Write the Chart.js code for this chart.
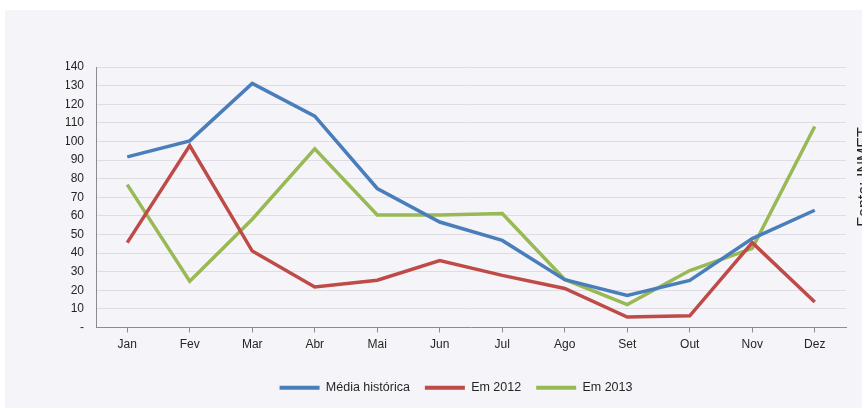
<!DOCTYPE html>
<html>
<head>
<meta charset="utf-8">
<script src="https://cdn.jsdelivr.net/npm/chart.js@4/dist/chart.umd.min.js"></script>
<style>
  html, body { margin: 0; padding: 0; background: #ffffff; }
  #wrap { width: 862px; height: 410px; position: relative; }
  canvas { display: block; }
</style>
</head>
<body>
<div id="wrap"><canvas id="c" width="862" height="410"></canvas></div>
<script>
// Monthly rainfall (mm): historical average vs. 2012 and 2013
const months = ['Jan', 'Fev', 'Mar', 'Abr', 'Mai', 'Jun', 'Jul', 'Ago', 'Set', 'Out', 'Nov', 'Dez'];
const mediaHistorica = [91.7, 100.3, 131.2, 113.6, 74.7, 56.7, 46.8, 25.7, 17.2, 25.3, 47.8, 63.0];
const em2012 = [45.6, 97.8, 41.1, 21.8, 25.4, 36.0, 28.0, 21.0, 5.6, 6.3, 45.6, 13.7];
const em2013 = [76.8, 24.9, 58.2, 96.0, 60.5, 60.5, 61.2, 25.8, 12.3, 30.6, 42.5, 108.0];
const seriesNames = ['Média histórica', 'Em 2012', 'Em 2013'];
const sourceNote = 'Fonte: INMET';

const FONT = '"Liberation Sans", Arial, sans-serif';
const TEXT = '#262626';

// Light panel behind the chart and the rotated source note at the right edge
const panelPlugin = {
  id: 'panel',
  beforeDraw(chart) {
    const ctx = chart.ctx;
    ctx.save();
    ctx.fillStyle = '#ffffff';
    ctx.fillRect(0, 0, chart.width, chart.height);
    ctx.fillStyle = '#f5f4f9';
    ctx.fillRect(5, 10, chart.width - 5, chart.height - 12);
    ctx.restore();
  },
  afterDraw(chart) {
    const ctx = chart.ctx;
    ctx.save();
    ctx.translate(869, 177);
    ctx.rotate(-Math.PI / 2);
    ctx.fillStyle = TEXT;
    ctx.font = '16px ' + FONT;
    ctx.textAlign = 'center';
    ctx.textBaseline = 'alphabetic';
    ctx.fillText(sourceNote, 0, 0);
    ctx.restore();
  }
};

const colors = ['#4a7ebb', '#be4b48', '#98b954'];
const values = [mediaHistorica, em2012, em2013];

new Chart(document.getElementById('c'), {
  type: 'line',
  data: {
    labels: months,
    datasets: values.map((v, i) => ({
      label: seriesNames[i],
      data: v,
      borderColor: colors[i],
      backgroundColor: colors[i],
      borderWidth: 3.5,
      pointRadius: 0,
      pointHoverRadius: 0,
      tension: 0,
      fill: false
    }))
  },
  options: {
    responsive: false,
    animation: false,
    events: [],
    layout: { padding: { top: 67, right: 16, left: 66, bottom: 6 } },
    plugins: {
      tooltip: { enabled: false },
      legend: {
        position: 'bottom',
        labels: {
          color: TEXT,
          font: { family: FONT, size: 12.5 },
          boxWidth: 40,
          boxHeight: 4,
          padding: 15,
          generateLabels(chart) {
            return chart.data.datasets.map((ds, i) => ({
              text: ds.label,
              fillStyle: ds.borderColor,
              strokeStyle: ds.borderColor,
              lineWidth: 0,
              fontColor: TEXT,
              datasetIndex: i,
              hidden: false
            }));
          }
        }
      }
    },
    scales: {
      x: {
        type: 'category',
        offset: true,
        afterFit(scale) { scale.height = 39; },
        grid: {
          offset: false,
          drawOnChartArea: false,
          drawTicks: true,
          tickLength: 5,
          color: '#8c8c8c'
        },
        border: { color: '#8c8c8c', width: 1 },
        ticks: {
          color: TEXT,
          font: { family: FONT, size: 12 },
          padding: 5,
          maxRotation: 0
        }
      },
      y: {
        min: 0,
        max: 140,
        afterFit(scale) { scale.width = 30; },
        grid: {
          color: '#dedde3',
          lineWidth: 1,
          drawTicks: false
        },
        border: { color: '#8c8c8c', width: 1 },
        ticks: {
          stepSize: 10,
          color: TEXT,
          font: { family: FONT, size: 12 },
          padding: 12,
          callback: (v) => (v === 0 ? '-' : v)
        }
      }
    }
  },
  plugins: [panelPlugin]
});
</script>
</body>
</html>
